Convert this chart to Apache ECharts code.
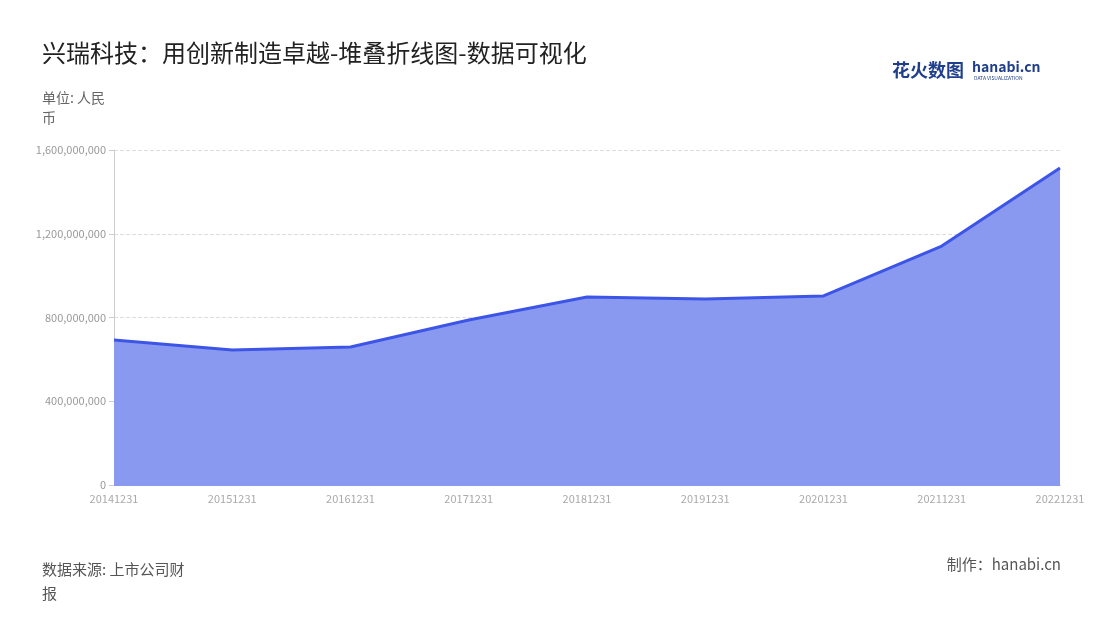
<!DOCTYPE html>
<html><head><meta charset="utf-8">
<script src="https://cdn.jsdelivr.net/npm/echarts@6/dist/echarts.min.js"></script>
<style>html,body{margin:0;padding:0;background:#fff}#c{width:1100px;height:620px}</style>
</head><body><div id="c"></div>
<script>
const categories = ['20141231','20151231','20161231','20171231','20181231','20191231','20201231','20211231','20221231'];
const values = [692000000,645000000,659000000,788000000,898000000,888000000,903000000,1141000000,1514000000];
const yTicks = {min:0,max:1600000000,interval:400000000};
const chart = echarts.init(document.getElementById('c'));
const F = '"Noto Sans CJK SC","Noto Sans",sans-serif';
chart.setOption({
  animation:false,
  textStyle:{fontFamily:F},
  title:[
    {text:'兴瑞科技：用创新制造卓越-堆叠折线图-数据可视化',left:37,top:36,textStyle:{fontSize:24,fontWeight:'normal',color:'#222',fontFamily:F}},
    {text:'单位: 人民\n币',left:37,top:83,textStyle:{fontSize:14,fontWeight:'normal',color:'#666',lineHeight:20,fontFamily:F}},
    {text:'数据来源: 上市公司财\n报',left:37,top:552,textStyle:{fontSize:15,fontWeight:'normal',color:'#555',lineHeight:24,fontFamily:F}},
    {text:'制作：hanabi.cn',right:34,top:552,textStyle:{fontSize:15,fontWeight:'normal',color:'#555',fontFamily:F}}
  ],
  graphic:[
    {type:'text',left:892,top:61,style:{text:'花火数图',font:'bold 18px '+F,fill:'#1f3e8c'}},
    {type:'text',left:972,top:60,style:{text:'hanabi.cn',font:'bold 14px '+F,fill:'#1f3e8c'}},
    {type:'text',left:974,top:76,style:{text:'DATA VISUALIZATION',font:'5px '+F,fill:'#1f3e8c'}}
  ],
  grid:{left:114,right:40,top:150,bottom:135},
  xAxis:{type:'category',data:categories,boundaryGap:false,
    axisLine:{lineStyle:{color:'#8a99f0'}},axisTick:{show:false},
    axisLabel:{color:'#aaa',fontSize:11,margin:8}},
  yAxis:{type:'value',min:yTicks.min,max:yTicks.max,interval:yTicks.interval,
    axisLine:{show:true,lineStyle:{color:'#ccc'}},axisTick:{show:true,lineStyle:{color:'#ccc'}},
    axisLabel:{color:'#999',fontSize:11,formatter:v=>v.toLocaleString('en-US')},
    splitLine:{lineStyle:{type:'dashed',color:'#ddd'}}},
  series:[{type:'line',data:values,symbol:'none',
    lineStyle:{color:'#3d55e6',width:3},
    areaStyle:{color:'#8a99f0',opacity:1}}]
});
</script></body></html>
